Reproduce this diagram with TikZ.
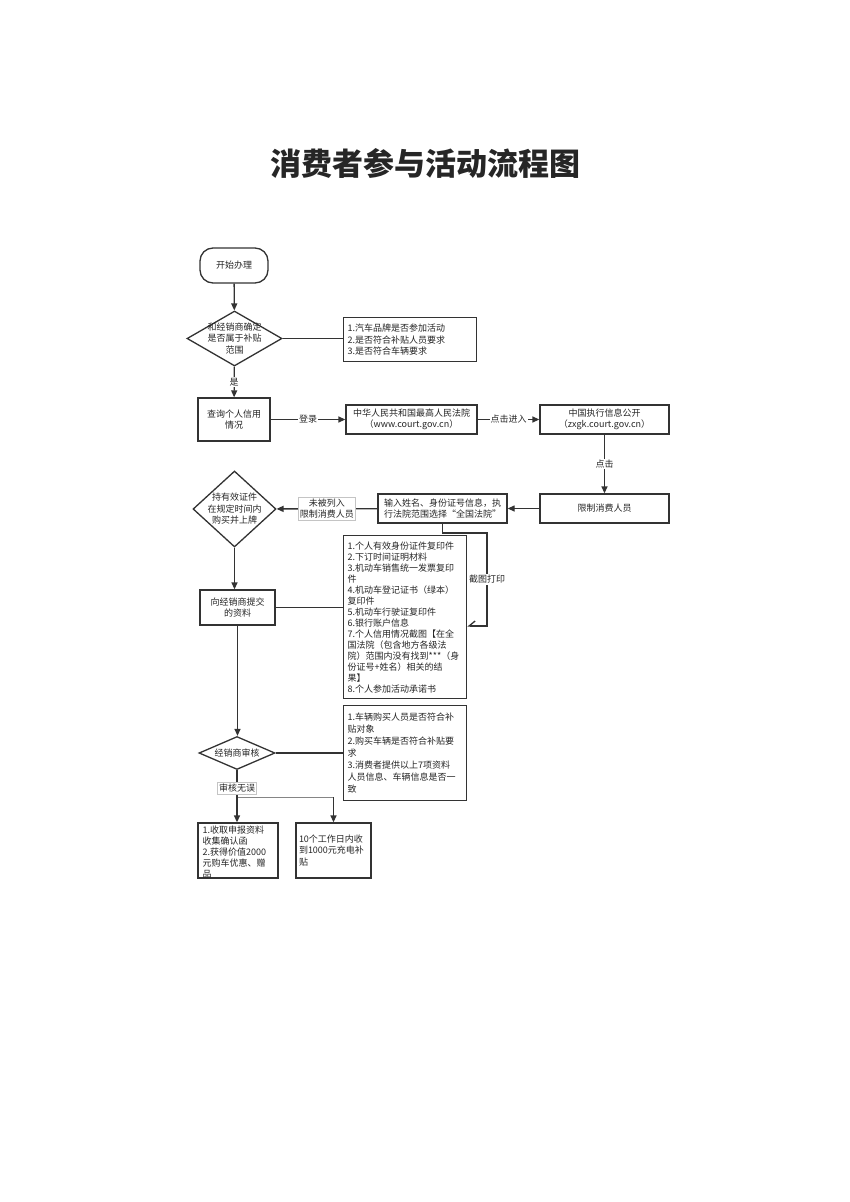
\documentclass[tikz,border=0pt]{standalone}
\usepackage{fontspec}
\setmainfont{Noto Sans CJK SC}
\usetikzlibrary{shapes.geometric,arrows.meta}
\definecolor{linec}{HTML}{333333}
\definecolor{lblgray}{HTML}{C4C4C4}
\begin{document}
\begin{tikzpicture}[x=1pt,y=-1pt,
    >={Triangle[length=7pt,width=6pt]},
    every node/.style={font=\fontsize{9}{11.5}\selectfont, text=black!85},
    proc/.style={draw=linec, line width=1.3pt, inner sep=3pt, align=center},
    note/.style={draw=linec, line width=1.3pt, inner sep=4pt, align=left, anchor=north west},
    decide/.style={diamond, draw=linec, line width=1.3pt, inner sep=0pt},
    lbl/.style={fill=white, inner sep=1pt},
    lblbox/.style={fill=white, draw=lblgray, line width=0.5pt, inner sep=1.5pt, align=center},
    flow/.style={draw=linec, line width=1.3pt}]
  \fill[white] (0,0) rectangle (850,1202);
  \useasboundingbox (0,0) rectangle (850,1202);
  % title
  \node[font=\fontsize{31}{31}\selectfont\bfseries] (title) at (425,163) {消费者参与活动流程图};
  % first part
  \node[proc, rounded corners=13pt, minimum width=68pt, minimum height=35pt] (start) at (234,265.5) {开始办理};
  \node[decide, minimum width=95pt, minimum height=55pt] (chk) at (234.5,338.5) {};
  \node[align=center] (chkt) at (chk) {和经销商确定\\是否属于补贴\\范围};
  \node[note, text width=125pt, minimum height=44pt] (rules) at (343,317)
    {1.汽车品牌是否参加活动\\2.是否符合补贴人员要求\\3.是否符合车辆要求};
  \node[proc, minimum width=72pt, minimum height=43pt] (query) at (234,419.5) {查询个人信用\\情况};
  \node[proc, minimum width=131pt, minimum height=29pt] (court) at (411.5,419.5)
    {中华人民共和国最高人民法院\\（www.court.gov.cn）};
  \node[proc, minimum width=129pt, minimum height=29pt] (zxgk) at (604.5,419.5)
    {中国执行信息公开\\（zxgk.court.gov.cn）};
  \node[proc, minimum width=129pt, minimum height=29pt] (limit) at (604.5,508.5) {限制消费人员};
  \node[proc, minimum width=129pt, minimum height=29pt] (input) at (442.5,508.5)
    {输入姓名、身份证号信息，执\\行法院范围选择“全国法院”};
  \node[decide, minimum width=83pt, minimum height=76pt] (own) at (234.5,509) {};
  \node[align=center] (ownt) at (own) {持有效证件\\在规定时间内\\购买并上牌};
  % materials
  \node[proc, minimum width=75pt, minimum height=35pt] (submit) at (237.5,607.5) {向经销商提交\\的资料};
  \node[note, text width=115pt, minimum height=163pt, font=\fontsize{9}{11}\selectfont] (mats) at (343,535)
    {1.个人有效身份证件复印件\\2.下订时间证明材料\\3.机动车销售统一发票复印\\件\\
     4.机动车登记证书（绿本）\\复印件\\5.机动车行驶证复印件\\6.银行账户信息\\
     7.个人信用情况截图【在全\\国法院（包含地方各级法\\院）范围内没有找到***（身\\
     份证号+姓名）相关的结\\果】\\8.个人参加活动承诺书};
  % audit
  \node[decide, minimum width=76pt, minimum height=33pt] (audit) at (237,753) {};
  \node (auditt) at (audit) {经销商审核};
  \node[note, text width=115pt, minimum height=95pt, font=\fontsize{9}{12}\selectfont] (check) at (343,705)
    {1.车辆购买人员是否符合补\\贴对象\\2.购买车辆是否符合补贴要\\求\\
     3.消费者提供以上7项资料\\人员信息、车辆信息是否一\\致};
  \node[proc, minimum width=80pt, minimum height=55pt] (gift) at (238,850.5) {};
  \node[anchor=north west, align=left, inner sep=0pt, font=\fontsize{9}{11.2}\selectfont] (giftt)
    at ([xshift=5pt,yshift=-3pt]gift.north west)
    {1.收取申报资料\\收集确认函\\2.获得价值2000\\元购车优惠、赠\\品};
  \node[proc, align=left, text width=69pt, minimum height=55pt] (subsidy) at (333.5,850.5)
    {10个工作日内收\\到1000元充电补\\贴};
  % connectors
  \draw[flow,->] (start) -- (chk);
  \draw[flow] (chk.east) -- (chk.east -| rules.west);
  \draw[flow,->] (chk) -- node[lbl]{是} (query);
  \draw[flow,->] (query) -- node[lbl]{登录} (court);
  \draw[flow,->] (court) -- node[lbl]{点击进入} (zxgk);
  \draw[flow,->] (zxgk) -- node[lbl]{点击} (limit);
  \draw[flow,->] (limit) -- (input);
  \draw[flow,->] (input) -- node[lblbox]{未被列入\\限制消费人员} (own);
  \draw[flow,->] (own.south) -- (own.south |- submit.north);
  \draw[flow] (submit.east) -- (submit.east -| mats.west);
  % screenshot loop
  \coordinate (c1) at (487,533);
  \coordinate (c2) at (487,626);
  \draw[flow,-{Straight Barb[right,length=6pt,width=10pt]}] (input.south) |- (c1)
    -- node[lbl]{截图打印} (c2) -- (c2 -| mats.east);
  \draw[flow,->] (submit.south) -- (submit.south |- audit.north);
  \draw[flow] (audit.east) -- (audit.east -| check.west);
  \draw[flow,->] (audit.south) -- node[lblbox, pos=0.35]{审核无误} (audit.south |- gift.north);
  \coordinate (fork) at (238,797);
  \draw[flow, draw=linec!60, line width=1pt] (fork) -- (fork -| subsidy.north);
  \draw[flow,->] (fork -| subsidy.north) -- (subsidy.north);
\end{tikzpicture}
\end{document}
